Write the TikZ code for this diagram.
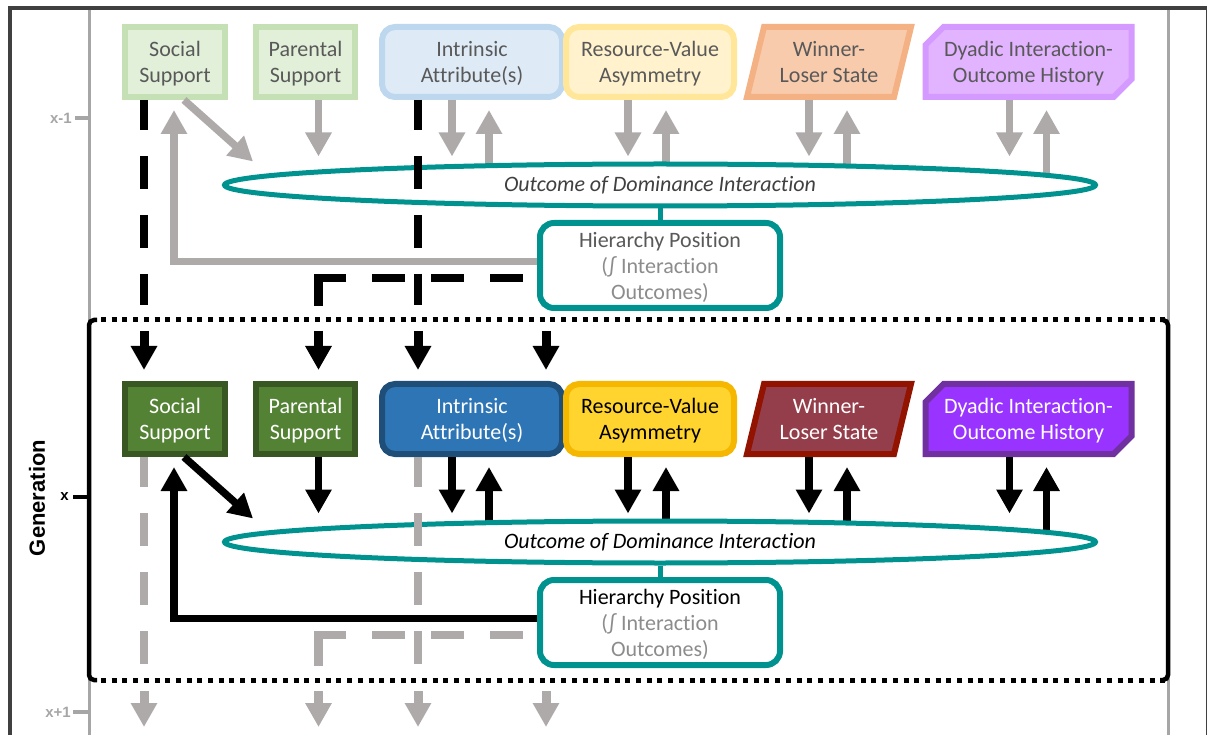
\documentclass[tikz,border=0pt]{standalone}
\usepackage{fontspec}
\setmainfont{Carlito}[Ligatures={NoCommon}]
\newfontfamily\labfont{Liberation Sans}
\usetikzlibrary{arrows.meta, positioning, calc, backgrounds, shapes.geometric, shapes.misc}
\definecolor{framegrey}{HTML}{404040}
\definecolor{tlgrey}{HTML}{A6A6A6}
\definecolor{agrey}{HTML}{AEAAAA}
\definecolor{hteal}{HTML}{00928F}
\definecolor{txtL}{HTML}{595959}
\definecolor{eltxL}{HTML}{404040}
\definecolor{hgrey}{HTML}{8C8C8C}
\definecolor{ssLf}{HTML}{E2F0D9}\definecolor{ssLb}{HTML}{C5E0B4}
\definecolor{ssDf}{HTML}{548235}\definecolor{ssDb}{HTML}{385723}
\definecolor{iaLf}{HTML}{DEEBF7}\definecolor{iaLb}{HTML}{BDD7EE}
\definecolor{iaDf}{HTML}{2E75B6}\definecolor{iaDb}{HTML}{1F4E79}
\definecolor{rvLf}{HTML}{FFF2CC}\definecolor{rvLb}{HTML}{FFE699}
\definecolor{rvDf}{HTML}{FFD42E}\definecolor{rvDb}{HTML}{F5B700}
\definecolor{wlLf}{HTML}{F8CBAD}\definecolor{wlLb}{HTML}{F4B183}
\definecolor{wlDf}{HTML}{953E4B}\definecolor{wlDb}{HTML}{921300}
\definecolor{dyLf}{HTML}{E2B3FF}\definecolor{dyLb}{HTML}{D49AFF}
\definecolor{dyDf}{HTML}{9933FF}\definecolor{dyDb}{HTML}{7030A0}

\begin{document}
\begin{tikzpicture}[x=1pt, y=-1pt,
    tbox/.style={draw, line width=6pt, align=center, inner sep=0pt, outer sep=3pt,
                 minimum width=100pt, minimum height=70pt, text depth=0pt,
                 font=\fontsize{22pt}{26.5pt}\selectfont},
    ssL/.style={tbox, draw=ssLb, fill=ssLf, text=txtL},
    ssD/.style={tbox, draw=ssDb, fill=ssDf, text=white},
    iaL/.style={tbox, rounded corners=13pt, minimum width=180pt, draw=iaLb, fill=iaLf, text=txtL},
    iaD/.style={tbox, rounded corners=13pt, minimum width=180pt, draw=iaDb, fill=iaDf, text=white},
    rvL/.style={tbox, rounded corners=13pt, minimum width=168pt, draw=rvLb, fill=rvLf, text=txtL},
    rvD/.style={tbox, rounded corners=13pt, minimum width=168pt, draw=rvDb, fill=rvDf, text=black},
    wlL/.style={tbox, draw=none, minimum width=130pt, text=txtL},
    wlD/.style={tbox, draw=none, minimum width=130pt, text=white},
    wlpL/.style={line width=6pt, draw=wlLb, fill=wlLf},
    wlpD/.style={line width=6pt, draw=wlDb, fill=wlDf},
    dyL/.style={tbox, chamfered rectangle, chamfered rectangle corners={north west, south east},
                chamfered rectangle xsep=9pt, chamfered rectangle ysep=9pt,
                minimum width=206pt, draw=dyLb, fill=dyLf, text=txtL},
    dyD/.style={dyL, draw=dyDb, fill=dyDf, text=white},
    ell/.style={ellipse, draw=hteal, line width=5pt, fill=white, inner sep=0pt,
                minimum width=871pt, minimum height=42pt,
                font=\fontsize{22pt}{26pt}\selectfont\itshape},
    ellL/.style={ell, text=eltxL}, ellD/.style={ell, text=black},
    hier/.style={rectangle, rounded corners=14pt, draw=hteal, line width=6pt, fill=white,
                 minimum width=240pt, minimum height=85pt, align=center, inner sep=0pt,
                 text depth=0pt, font=\fontsize{22pt}{26pt}\selectfont},
    hierL/.style={hier, text=txtL}, hierD/.style={hier, text=black},
    link/.style={draw=hteal, line width=5pt},
    arrL/.style={draw=agrey, line width=7.5pt, -{Triangle[width=25pt,length=24pt]}},
    arrD/.style={arrL, draw=black},
    inh/.style={line width=8.5pt, dash pattern=on 33pt off 26pt, dash phase=3pt, shorten >=15pt},
    inhL/.style={line width=8.5pt, shorten <=14pt, shorten >=14pt,
                 dash pattern=on 33pt off 26pt on 33pt off 26pt on 33pt off 26pt on 60pt},
    inharr/.style={line width=9pt, shorten <=11pt, shorten >=11pt, -{Triangle[width=25pt,length=24pt]}},
    lab/.style={inner sep=0pt, font=\labfont\bfseries\fontsize{15pt}{15pt}\selectfont}]
  \useasboundingbox (0,0) rectangle (1208,735);
  % frame and generation axis
  \draw[framegrey, line width=4pt] (10,745) -- (10,8) -- (1206.5,8);
  \draw[framegrey, line width=1.5pt] (1206.5,8) -- (1206.5,745);
  \draw[tlgrey, line width=3pt] (89,10) -- (89,740);
  \draw[tlgrey, line width=3pt] (1168,10) -- (1168,740);
  \draw[tlgrey, line width=3.5pt] (75,118) -- (89,118);
  \draw[black, line width=3.5pt] (73,497) -- (89,497);
  \draw[tlgrey, line width=3.5pt] (73,712) -- (89,712);
  \node[lab, text=tlgrey, anchor=east] (tkA) at (72,118) {x-1};
  \node[lab, anchor=east] (tkB) at (69,497) {x};
  \node[lab, text=tlgrey, anchor=east] (tkC) at (71,712) {x+1};
  \node[lab, rotate=90, font=\labfont\bfseries\fontsize{22pt}{22pt}\selectfont] (genlab) at (37,498) {Generation};
  % current generation box
  \node[minimum width=1079pt, minimum height=360pt, inner sep=0pt, outer sep=0pt] (gen) at (628.5,500) {};
  \draw[line width=4.5pt, rounded corners=5pt] ([xshift=8pt]gen.north west) -- (gen.north west)
    -- (gen.south west) -- ([xshift=8pt]gen.south west);
  \draw[line width=4.5pt, rounded corners=5pt] ([xshift=-8pt]gen.north east) -- (gen.north east)
    -- (gen.south east) -- ([xshift=-8pt]gen.south east);
  \draw[line width=5pt, dash pattern=on 5pt off 5.7pt] ([xshift=12pt]gen.north west) -- (gen.north east);
  \draw[line width=5pt, dash pattern=on 5pt off 5.7pt] ([xshift=12pt]gen.south west) -- (gen.south east);
  % one model per generation
  \foreach \g/\gy in {L/0, D/357} {
    \node[ss\g] (soc\g) at (175,62+\gy) {Social\\Support};
    \node[ss\g, minimum width=99pt] (par\g) at (305.5,62+\gy) {Parental\\Support};
    \node[ia\g] (int\g) at (472,62+\gy) {Intrinsic\\Attribute(s)};
    \node[rv\g] (rv\g) at (650,62+\gy) {Resource-Value\\Asymmetry};
    \node[wl\g] (wl\g) at (829,62+\gy) {Winner-\\Loser State};
    \node[dy\g] (dy\g) at (1028.5,62+\gy) {Dyadic Interaction-\\Outcome History};
    \node[ell\g] (ell\g) at (660,185+\gy) {Outcome of Dominance Interaction};
    \node[hier\g] (hier\g) at (660,265.5+\gy)
      {Hierarchy Position\\\textcolor{hgrey}{(∫ Interaction}\\\textcolor{hgrey}{Outcomes)}};
    \begin{scope}[on background layer]
      \filldraw[wlp\g] ([shift={(-82pt,-35pt)}]wl\g.center) -- ([shift={(65pt,-35pt)}]wl\g.center)
        -- ([shift={(82pt,35pt)}]wl\g.center) -- ([shift={(-65pt,35pt)}]wl\g.center) -- cycle;
    \end{scope}
    \draw[link] (ell\g.south) -- (hier\g.north);
    \draw[arr\g] ([xshift=9pt]soc\g.south) -- ([xshift=-407pt]ell\g.north);
    \draw[arr\g, shorten >=5pt] ([xshift=13pt]par\g.south) coordinate (p) -- (p |- ell\g.north);
    \foreach \b/\dn/\up in {int/-20pt/17pt, rv/-22pt/16pt, wl/-20pt/18pt, dy/-19pt/18pt} {
      \draw[arr\g, shorten >=5pt] ([xshift=\dn]\b\g.south) coordinate (p) -- (p |- ell\g.north);
      \path ([xshift=\up]\b\g.south) coordinate (q);
      \begin{scope}[on background layer]
        \draw[arr\g, shorten >=10pt] (q |- ell\g.center) -- (q);
      \end{scope}
    }
    \draw[arr\g, shorten >=10pt] ([yshift=4pt]hier\g.west) -| ([xshift=-1pt]soc\g.south);
  }
  % carry-over to the next generation
  \coordinate (cutL) at (gen.north);
  \coordinate (cutD) at (gen.south);
  \coordinate (rowD) at (socD.north);
  \coordinate (rowN) at (0,738);
  \foreach \g/\n/\c in {L/D/black, D/N/agrey} {
    \path ([xshift=-31pt]soc\g.south) coordinate (i1) ([xshift=13pt]par\g.south) coordinate (i2)
          ([xshift=-54pt]int\g.south) coordinate (i3) ([xshift=9pt]hier\g.south west) coordinate (i4);
    \draw[inh, draw=\c] (i1) -- (i1 |- cut\g);
    \draw[inh, draw=\c] (i3) -- (i3 |- cut\g);
    \draw[inhL, draw=\c] ([yshift=-12.5pt]hier\g.west) -| (i2 |- cut\g);
    \foreach \i in {1,...,4}
      \draw[inharr, draw=\c] (i\i |- cut\g) -- (i\i |- row\n);
  }
\end{tikzpicture}
\end{document}
